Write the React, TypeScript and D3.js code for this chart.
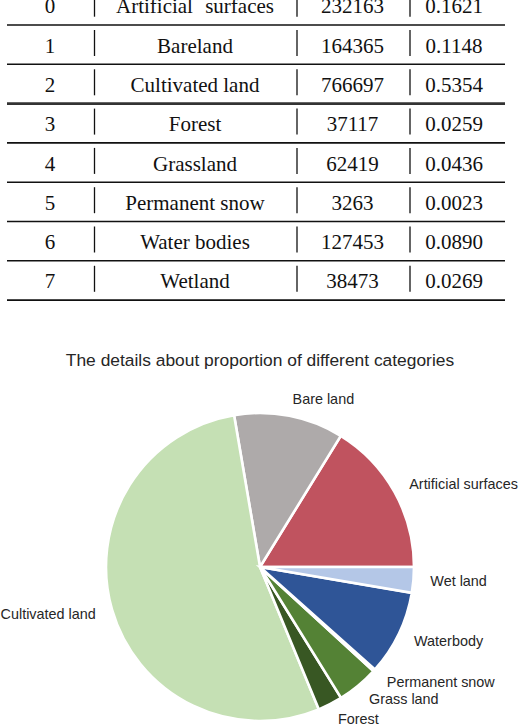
import React, { useRef, useEffect } from 'react';
import * as d3 from 'd3';

// table data
const rowIndex = [0, 1, 2, 3, 4, 5, 6, 7];
const tableNames = ['Artificial surfaces', 'Bareland', 'Cultivated land', 'Forest', 'Grassland', 'Permanent snow', 'Water bodies', 'Wetland'];
const counts = [232163, 164365, 766697, 37117, 62419, 3263, 127453, 38473];
const proportions = ['0.1621', '0.1148', '0.5354', '0.0259', '0.0436', '0.0023', '0.0890', '0.0269'];

// pie data
const pieLabels = ['Artificial surfaces', 'Bare land', 'Cultivated land', 'Forest', 'Grass land', 'Permanent snow', 'Waterbody', 'Wet land'];
const pieColors = ['#c0535f', '#aeaaaa', '#c5e0b4', '#385723', '#548235', '#ffffff', '#2f5597', '#b4c7e7'];
const chartTitle = 'The details about proportion of different categories';

function App() {
  const svgRef = useRef<SVGSVGElement>(null);

  useEffect(() => {
    const width = 520;
    const height = 726;
    const svg = d3.select(svgRef.current);
    svg.selectAll('*').remove();
    svg.attr('width', width).attr('height', height).attr('viewBox', [0, 0, width, height]);

    // ---- table ----
    const rowY = d3.scaleLinear().domain([0, 1]).range([-14.3, 25]); // top line of each row
    const colX = { idx: 50, bar1: 94.5, name: 195, bar2: 297, count: 352.5, bar3: 410, prop: 454 };
    const table = svg.append('g').attr('font-family', '"Liberation Serif", "Times New Roman", serif').attr('font-size', 21).attr('fill', '#111');

    rowIndex.forEach((r, i) => {
      const top = rowY(i);
      const base = top + 27.6;
      const g = table.append('g');
      g.append('text').attr('x', colX.idx).attr('y', base).attr('text-anchor', 'middle').text(r);
      g.append('text').attr('x', colX.name).attr('y', base).attr('text-anchor', 'middle')
        .attr('word-spacing', i === 0 ? 7 : 0).text(tableNames[i]);
      g.append('text').attr('x', colX.count).attr('y', base).attr('text-anchor', 'middle').text(counts[i]);
      g.append('text').attr('x', colX.prop).attr('y', base).attr('text-anchor', 'middle').text(proportions[i]);
      [colX.bar1, colX.bar2, colX.bar3].forEach(bx => {
        g.append('line').attr('x1', bx).attr('x2', bx).attr('y1', top + 5).attr('y2', top + 31)
          .attr('stroke', '#111').attr('stroke-width', 1.3);
      });
      // bottom rule
      table.append('line').attr('x1', 7).attr('x2', 505).attr('y1', rowY(i + 1)).attr('y2', rowY(i + 1))
        .attr('stroke', i === 2 ? '#333' : '#111').attr('stroke-width', i === 2 ? 2.6 : 1.6);
    });

    // ---- pie ----
    const cx = 260;
    const cy = 567;
    const radius = 154;

    svg.append('text')
      .attr('x', 260).attr('y', 360)
      .attr('text-anchor', 'middle').attr('dominant-baseline', 'central')
      .attr('font-family', '"Liberation Sans", Arial, sans-serif').attr('font-size', 17.4)
      .attr('fill', '#262626').text(chartTitle);

    const pie = d3.pie<number>().sort(null).value(d => d)
      .startAngle(Math.PI / 2).endAngle(Math.PI / 2 - 2 * Math.PI);
    const arcs = pie(counts);
    const arc = d3.arc<d3.PieArcDatum<number>>().innerRadius(0).outerRadius(radius);

    const pg = svg.append('g').attr('transform', `translate(${cx},${cy})`);
    pg.selectAll('path').data(arcs).join('path')
      .attr('d', arc)
      .attr('fill', (_, i) => pieColors[i])
      .attr('stroke', '#fff').attr('stroke-width', 2.6).attr('stroke-linejoin', 'miter');

    const lr = radius * 1.11;
    pg.selectAll('text').data(arcs).join('text')
      .each(function (d, i) {
        const a = (d.startAngle + d.endAngle) / 2;
        const x = lr * Math.sin(a);
        const y = -lr * Math.cos(a);
        d3.select(this).attr('x', x).attr('y', y)
          .attr('text-anchor', x > 0 ? 'start' : 'end')
          .attr('dominant-baseline', 'central')
          .text(pieLabels[i]);
      })
      .attr('font-family', '"Liberation Sans", Arial, sans-serif').attr('font-size', 14.4)
      .attr('fill', '#262626');
  }, []);

  return (
    <div style={{ position: 'absolute', left: 0, top: 0, width: 520, height: 726, background: '#fff' }}>
      <svg ref={svgRef}></svg>
    </div>
  );
}

export default App;
